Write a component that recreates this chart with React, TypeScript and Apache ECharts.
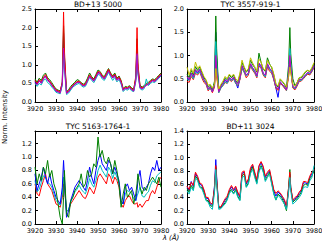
import React, { useEffect, useRef } from "react";
import * as echarts from "echarts";

const WAVELENGTHS = [
  3920, 3921, 3922, 3923, 3924, 3925, 3926, 3927, 3928, 3929,
  3930, 3931, 3932, 3933, 3933.6, 3934, 3935, 3936, 3937, 3938,
  3939, 3940, 3941, 3942, 3943, 3944, 3945, 3946, 3947, 3948,
  3949, 3950, 3951, 3952, 3953, 3954, 3955, 3956, 3957, 3958,
  3959, 3960, 3961, 3962, 3963, 3964, 3965, 3966, 3967, 3968,
  3968.6, 3969, 3970, 3971, 3972, 3973, 3974, 3975, 3976, 3977, 3978, 3979, 3980,
];

const TITLES = ["BD+13 5000", "TYC 3557-919-1", "TYC 5163-1764-1", "BD+11 3024"];
const Y_MAX = [2.5, 2.0, 1.39, 1.4];
const Y_STEP = [0.5, 0.5, 0.2, 0.2];

// Panel 1: BD+13 5000
const P1_BLUE = [
  0.55, 0.48, 0.58, 0.52, 0.64, 0.70, 0.60, 0.54, 0.46, 0.38,
  0.30, 0.28, 0.25, 0.50, 1.85, 1.15, 0.24, 0.28, 0.36, 0.43,
  0.48, 0.53, 0.54, 0.48, 0.44, 0.46, 0.58, 0.70, 0.62, 0.57,
  0.68, 0.80, 0.77, 0.68, 0.63, 0.73, 0.85, 0.73, 0.65, 0.72,
  0.60, 0.65, 0.53, 0.32, 0.38, 0.36, 0.40, 0.34, 0.30, 0.62,
  1.55, 0.85, 0.40, 0.36, 0.40, 0.46, 0.48, 0.54, 0.58, 0.56, 0.61, 0.67, 0.73,
];
const P1_GREEN = [
  0.62, 0.53, 0.64, 0.58, 0.72, 0.78, 0.65, 0.60, 0.52, 0.43,
  0.35, 0.32, 0.30, 0.52, 2.05, 1.25, 0.28, 0.33, 0.42, 0.48,
  0.53, 0.60, 0.58, 0.52, 0.48, 0.52, 0.64, 0.78, 0.68, 0.62,
  0.74, 0.86, 0.82, 0.72, 0.68, 0.80, 0.90, 0.78, 0.70, 0.78,
  0.64, 0.70, 0.58, 0.36, 0.42, 0.40, 0.44, 0.38, 0.34, 0.65,
  1.70, 0.95, 0.45, 0.40, 0.44, 0.50, 0.53, 0.58, 0.62, 0.60, 0.66, 0.72, 0.78,
];
const P1_RED = [
  0.58, 0.50, 0.60, 0.55, 0.66, 0.74, 0.62, 0.56, 0.48, 0.40,
  0.33, 0.30, 0.28, 0.55, 2.42, 1.40, 0.26, 0.30, 0.38, 0.45,
  0.50, 0.55, 0.56, 0.50, 0.46, 0.48, 0.60, 0.73, 0.65, 0.60,
  0.70, 0.82, 0.80, 0.70, 0.66, 0.76, 0.88, 0.76, 0.68, 0.75,
  0.62, 0.68, 0.56, 0.34, 0.40, 0.38, 0.42, 0.36, 0.32, 0.70,
  2.00, 1.05, 0.42, 0.38, 0.42, 0.48, 0.50, 0.56, 0.60, 0.58, 0.63, 0.70, 0.76,
];
const P1_CYAN = [
  0.50, 0.42, 0.50, 0.46, 0.58, 0.62, 0.52, 0.48, 0.40, 0.34,
  0.26, 0.24, 0.22, 0.45, 1.35, 0.90, 0.20, 0.24, 0.32, 0.40,
  0.44, 0.48, 0.50, 0.44, 0.40, 0.42, 0.54, 0.66, 0.58, 0.52,
  0.62, 0.74, 0.72, 0.62, 0.58, 0.68, 0.80, 0.68, 0.58, 0.66,
  0.54, 0.60, 0.48, 0.28, 0.34, 0.32, 0.36, 0.30, 0.28, 0.55,
  1.25, 0.75, 0.36, 0.32, 0.36, 0.62, 0.44, 0.50, 0.54, 0.52, 0.58, 0.64, 0.70,
];
const P1_MAGENTA = [
  0.52, 0.46, 0.56, 0.50, 0.62, 0.68, 0.58, 0.52, 0.44, 0.37,
  0.29, 0.27, 0.24, 0.48, 1.45, 0.95, 0.23, 0.27, 0.35, 0.42,
  0.47, 0.52, 0.53, 0.47, 0.43, 0.45, 0.57, 0.69, 0.61, 0.56,
  0.66, 0.78, 0.75, 0.66, 0.62, 0.72, 0.83, 0.72, 0.64, 0.70,
  0.58, 0.63, 0.52, 0.31, 0.37, 0.35, 0.39, 0.33, 0.29, 0.58,
  1.30, 0.80, 0.38, 0.35, 0.39, 0.45, 0.47, 0.53, 0.57, 0.55, 0.60, 0.66, 0.72,
];

// Panel 2: TYC 3557-919-1
const P2_BLUE = [
  0.52, 0.48, 0.62, 0.52, 0.68, 0.62, 0.70, 0.58, 0.48, 0.42,
  0.28, 0.32, 0.22, 0.40, 1.50, 0.95, 0.22, 0.32, 0.38, 0.48,
  0.42, 0.52, 0.48, 0.52, 0.42, 0.30, 0.50, 0.78, 0.66, 0.58,
  0.62, 0.82, 0.72, 0.66, 0.56, 0.82, 0.76, 0.62, 0.56, 0.82,
  0.72, 0.66, 0.50, 0.30, 0.10, 0.42, 0.38, 0.32, 0.26, 0.62,
  0.90, 0.75, 0.32, 0.28, 0.38, 0.48, 0.48, 0.52, 0.58, 0.62, 0.60, 0.68, 0.78,
];
const P2_GREEN = [
  0.60, 0.52, 0.68, 0.58, 0.76, 0.68, 0.75, 0.64, 0.52, 0.46,
  0.32, 0.36, 0.25, 0.45, 1.85, 1.15, 0.24, 0.36, 0.42, 0.52,
  0.48, 0.58, 0.52, 0.58, 0.46, 0.42, 0.58, 0.85, 0.74, 0.64,
  0.70, 0.90, 0.80, 0.74, 0.64, 1.05, 0.85, 0.70, 0.66, 0.95,
  0.82, 0.74, 0.58, 0.38, 0.32, 0.48, 0.44, 0.38, 0.30, 0.80,
  1.60, 1.05, 0.50, 0.35, 0.42, 0.52, 0.52, 0.58, 0.64, 0.68, 0.65, 0.72, 0.82,
];
const P2_RED = [
  0.45, 0.42, 0.55, 0.48, 0.62, 0.58, 0.65, 0.52, 0.42, 0.38,
  0.24, 0.30, 0.20, 0.32, 0.80, 0.55, 0.20, 0.30, 0.35, 0.42,
  0.40, 0.48, 0.44, 0.50, 0.40, 0.35, 0.48, 0.72, 0.64, 0.52,
  0.58, 0.78, 0.68, 0.62, 0.52, 0.78, 0.72, 0.58, 0.52, 0.76,
  0.66, 0.62, 0.48, 0.30, 0.25, 0.40, 0.36, 0.30, 0.24, 0.55,
  0.95, 0.70, 0.30, 0.26, 0.34, 0.44, 0.45, 0.50, 0.55, 0.60, 0.58, 0.65, 0.74,
];
const P2_CYAN = [
  0.50, 0.46, 0.60, 0.50, 0.66, 0.60, 0.66, 0.55, 0.46, 0.40,
  0.26, 0.30, 0.22, 0.36, 1.30, 0.85, 0.20, 0.30, 0.36, 0.44,
  0.40, 0.50, 0.46, 0.50, 0.40, 0.36, 0.50, 0.74, 0.64, 0.56,
  0.60, 0.80, 0.70, 0.64, 0.54, 0.80, 0.74, 0.60, 0.54, 0.80,
  0.70, 0.64, 0.50, 0.32, 0.28, 0.42, 0.38, 0.32, 0.25, 0.65,
  1.15, 0.85, 0.32, 0.28, 0.36, 0.46, 0.46, 0.52, 0.56, 0.62, 0.60, 0.66, 0.76,
];
const P2_MAGENTA = [
  0.55, 0.48, 0.62, 0.54, 0.70, 0.64, 0.70, 0.58, 0.48, 0.42,
  0.28, 0.32, 0.22, 0.38, 1.00, 0.70, 0.22, 0.34, 0.40, 0.48,
  0.44, 0.52, 0.48, 0.54, 0.44, 0.38, 0.52, 0.78, 0.68, 0.58,
  0.62, 0.82, 0.74, 0.68, 0.56, 0.84, 0.78, 0.62, 0.58, 0.82,
  0.72, 0.68, 0.52, 0.34, 0.28, 0.44, 0.38, 0.34, 0.26, 0.62,
  1.00, 0.75, 0.34, 0.30, 0.38, 0.48, 0.48, 0.54, 0.58, 0.64, 0.62, 0.68, 0.78,
];
const P2_YELLOW = [
  0.75, 0.58, 0.72, 0.62, 0.86, 0.72, 0.78, 0.66, 0.55, 0.48,
  0.36, 0.38, 0.30, 0.38, 0.72, 0.55, 0.28, 0.38, 0.45, 0.55,
  0.50, 0.60, 0.55, 0.60, 0.50, 0.45, 0.62, 0.90, 0.76, 0.66,
  0.72, 0.95, 0.84, 0.76, 0.66, 0.92, 0.86, 0.72, 0.68, 0.90,
  0.80, 0.76, 0.60, 0.40, 0.34, 0.50, 0.45, 0.40, 0.32, 0.55,
  0.75, 0.62, 0.38, 0.34, 0.42, 0.52, 0.54, 0.60, 0.66, 0.68, 0.66, 0.74, 0.85,
];

// Panel 3: TYC 5163-1764-1
const P3_RED = [
  0.60, 0.45, 0.42, 0.55, 0.65, 0.75, 0.60, 0.55, 0.50, 0.40,
  0.30, 0.28, 0.25, 0.40, 0.60, 0.55, 0.20, 0.20, 0.30, 0.35,
  0.40, 0.45, 0.50, 0.45, 0.40, 0.38, 0.45, 0.55, 0.50, 0.45,
  0.55, 0.70, 0.75, 0.70, 0.65, 0.60, 0.75, 0.70, 0.60, 0.70,
  0.65, 0.55, 0.30, 0.25, 0.35, 0.40, 0.42, 0.35, 0.30, 0.30,
  0.32, 0.25, 0.30, 0.25, 0.30, 0.35, 0.35, 0.45, 0.50, 0.45, 0.55, 0.65, 0.70,
];
const P3_CYAN = [
  0.65, 0.48, 0.52, 0.62, 0.72, 0.70, 0.62, 0.60, 0.55, 0.45,
  0.35, 0.32, 0.28, 0.45, 0.70, 0.60, 0.18, 0.22, 0.32, 0.40,
  0.48, 0.52, 0.58, 0.52, 0.48, 0.45, 0.55, 0.68, 0.60, 0.55,
  0.65, 0.80, 0.88, 0.80, 0.75, 0.70, 0.85, 0.80, 0.68, 0.78,
  0.70, 0.60, 0.32, 0.30, 0.45, 0.50, 0.48, 0.45, 0.38, 0.35,
  0.42, 0.45, 0.55, 0.42, 0.40, 0.45, 0.48, 0.58, 0.65, 0.62, 0.72, 0.75, 0.78,
];
const P3_BLUE = [
  0.75, 0.50, 0.60, 0.70, 0.85, 0.70, 0.60, 0.75, 0.60, 0.50,
  0.40, 0.35, 0.30, 0.55, 0.95, 0.70, 0.10, 0.20, 0.35, 0.45,
  0.55, 0.60, 0.65, 0.60, 0.55, 0.50, 0.65, 0.85, 0.70, 0.60,
  0.80, 0.95, 1.05, 0.90, 0.85, 0.80, 0.95, 0.90, 0.75, 0.85,
  0.75, 0.65, 0.35, 0.30, 0.55, 0.60, 0.50, 0.55, 0.45, 0.35,
  0.50, 0.65, 0.80, 0.55, 0.50, 0.55, 0.60, 0.75, 0.85, 0.80, 0.95, 0.80, 0.85,
];
const P3_GREEN = [
  0.85, 0.60, 0.75, 0.65, 0.85, 0.75, 0.95, 0.70, 0.80, 0.60,
  0.50, 0.30, 0.10, 0.00, 0.40, 0.80, 0.15, 0.10, 0.35, 0.40,
  0.50, 0.55, 0.60, 0.75, 0.55, 0.60, 0.80, 0.70, 0.75, 0.90,
  0.85, 1.30, 1.00, 1.10, 0.95, 0.90, 1.00, 0.90, 0.75, 0.95,
  0.80, 0.60, 0.25, 0.45, 0.60, 0.40, 0.45, 0.50, 0.30, 0.45,
  0.60, 0.75, 0.55, 0.45, 0.55, 0.50, 0.60, 0.65, 0.70, 0.65, 0.60, 0.70, 0.55,
];

// Panel 4: BD+11 3024
const P4_BLUE = [
  0.56, 0.50, 0.64, 0.56, 0.76, 0.70, 0.60, 0.58, 0.50, 0.39,
  0.38, 0.30, 0.28, 0.58, 0.97, 0.72, 0.25, 0.25, 0.30, 0.36,
  0.40, 0.50, 0.56, 0.50, 0.55, 0.46, 0.40, 0.76, 0.78, 0.60,
  0.66, 0.82, 0.88, 0.76, 0.65, 0.86, 0.92, 0.85, 0.70, 0.76,
  0.80, 0.65, 0.50, 0.42, 0.48, 0.45, 0.40, 0.35, 0.25, 0.52,
  0.75, 0.55, 0.35, 0.38, 0.40, 0.46, 0.50, 0.62, 0.62, 0.60, 0.70, 0.76, 0.80,
];
const P4_GREEN = [
  0.53, 0.48, 0.58, 0.52, 0.72, 0.68, 0.56, 0.55, 0.47, 0.36,
  0.35, 0.28, 0.26, 0.52, 0.85, 0.65, 0.24, 0.24, 0.28, 0.32,
  0.38, 0.48, 0.52, 0.46, 0.52, 0.42, 0.36, 0.72, 0.76, 0.56,
  0.62, 0.78, 0.86, 0.72, 0.62, 0.80, 0.88, 0.80, 0.66, 0.72,
  0.78, 0.62, 0.46, 0.36, 0.45, 0.42, 0.38, 0.30, 0.20, 0.55,
  0.82, 0.55, 0.33, 0.36, 0.38, 0.43, 0.48, 0.58, 0.60, 0.58, 0.68, 0.72, 0.80,
];
const P4_RED = [
  0.57, 0.52, 0.63, 0.58, 0.78, 0.72, 0.62, 0.60, 0.52, 0.40,
  0.40, 0.32, 0.30, 0.55, 0.88, 0.68, 0.26, 0.26, 0.32, 0.38,
  0.42, 0.52, 0.58, 0.52, 0.57, 0.48, 0.42, 0.78, 0.80, 0.62,
  0.68, 0.85, 0.90, 0.78, 0.67, 0.88, 0.94, 0.87, 0.72, 0.78,
  0.82, 0.67, 0.52, 0.46, 0.50, 0.47, 0.42, 0.37, 0.27, 0.55,
  0.78, 0.56, 0.36, 0.40, 0.42, 0.48, 0.52, 0.64, 0.64, 0.62, 0.72, 0.78, 0.82,
];
const P4_CYAN = [
  0.50, 0.45, 0.55, 0.50, 0.70, 0.65, 0.55, 0.53, 0.45, 0.35,
  0.33, 0.25, 0.22, 0.48, 0.82, 0.60, 0.22, 0.23, 0.27, 0.30,
  0.36, 0.46, 0.50, 0.45, 0.50, 0.40, 0.35, 0.70, 0.72, 0.55,
  0.60, 0.76, 0.82, 0.70, 0.60, 0.78, 0.86, 0.78, 0.64, 0.70,
  0.75, 0.60, 0.45, 0.36, 0.43, 0.40, 0.35, 0.30, 0.22, 0.48,
  0.70, 0.50, 0.30, 0.33, 0.36, 0.40, 0.45, 0.55, 0.56, 0.55, 0.65, 0.70, 0.88,
];

const COL = {
  b: "#0000ff",
  g: "#008000",
  r: "#ff0000",
  c: "#00bfbf",
  m: "#bf00bf",
  y: "#bfbf00",
};

const PANEL_SERIES: [string, number[]][][] = [
  [[COL.b, P1_BLUE], [COL.g, P1_GREEN], [COL.r, P1_RED], [COL.c, P1_CYAN], [COL.m, P1_MAGENTA]],
  [[COL.b, P2_BLUE], [COL.g, P2_GREEN], [COL.r, P2_RED], [COL.c, P2_CYAN], [COL.m, P2_MAGENTA], [COL.y, P2_YELLOW]],
  [[COL.r, P3_RED], [COL.c, P3_CYAN], [COL.b, P3_BLUE], [COL.g, P3_GREEN]],
  [[COL.b, P4_BLUE], [COL.g, P4_GREEN], [COL.r, P4_RED], [COL.c, P4_CYAN]],
];

const GRIDS = [
  { left: 35, top: 9, width: 126, height: 93 },
  { left: 187, top: 9, width: 127, height: 93 },
  { left: 35, top: 131, width: 126, height: 93 },
  { left: 187, top: 131, width: 127, height: 93 },
];

const FONT = "DejaVu Sans";

export default function App() {
  const ref = useRef<HTMLDivElement>(null);
  useEffect(() => {
    if (!ref.current) return;
    const chart = echarts.init(ref.current, null, { renderer: "svg" });
    const lineCol = "#000";
    const xAxes: any[] = [];
    const yAxes: any[] = [];
    const series: any[] = [];
    GRIDS.forEach((_, i) => {
      const baseX = {
        type: "value",
        gridIndex: i,
        min: 3920,
        max: 3980,
        interval: 10,
        axisLine: { show: true, onZero: false, lineStyle: { color: lineCol, width: 1 } },
        axisTick: { show: true, inside: true, length: 3, lineStyle: { color: lineCol, width: 1 } },
        splitLine: { show: false },
      };
      xAxes.push({
        ...baseX,
        position: "bottom",
        axisLabel: {
          show: true,
          fontSize: 6.5,
          color: "#000",
          margin: 3,
          fontFamily: FONT,
          formatter: (v: number) => String(Math.round(v)),
        },
      });
      xAxes.push({ ...baseX, position: "top", axisLabel: { show: false } });
      const baseY = {
        type: "value",
        gridIndex: i,
        min: 0,
        max: Y_MAX[i],
        interval: Y_STEP[i],
        axisLine: { show: true, onZero: false, lineStyle: { color: lineCol, width: 1 } },
        axisTick: { show: true, inside: true, length: 3, lineStyle: { color: lineCol, width: 1 } },
        splitLine: { show: false },
      };
      yAxes.push({
        ...baseY,
        position: "left",
        axisLabel: {
          show: true,
          fontSize: 6.5,
          color: "#000",
          margin: 3,
          fontFamily: FONT,
          showMaxLabel: i === 2 ? false : true,
          formatter: (v: number) => v.toFixed(1),
        },
      });
      yAxes.push({ ...baseY, position: "right", axisLabel: { show: false } });
      PANEL_SERIES[i].forEach(([color, vals]) => {
        series.push({
          type: "line",
          xAxisIndex: i * 2,
          yAxisIndex: i * 2,
          data: WAVELENGTHS.map((w, k) => [w, vals[k]]),
          showSymbol: false,
          symbol: "none",
          lineStyle: { color, width: 1 },
          itemStyle: { color },
          clip: true,
        });
      });
    });
    const graphics: any[] = GRIDS.map((g, i) => ({
      type: "text",
      x: g.left + g.width / 2,
      y: g.top - 1,
      style: {
        text: TITLES[i],
        fontSize: 7.5,
        fontFamily: FONT,
        fill: "#000",
        textAlign: "center",
        textVerticalAlign: "bottom",
      },
    }));
    graphics.push({
      type: "text",
      x: 5,
      y: 117,
      rotation: Math.PI / 2,
      style: {
        text: "Norm. Intensity",
        fontSize: 7,
        fontFamily: FONT,
        fill: "#000",
        textAlign: "center",
        textVerticalAlign: "middle",
      },
    });
    graphics.push({
      type: "text",
      x: 171,
      y: 238,
      style: {
        text: "λ (Å)",
        fontSize: 7,
        fontFamily: FONT,
        fontStyle: "italic",
        fill: "#000",
        textAlign: "center",
        textVerticalAlign: "middle",
      },
    });
    chart.setOption({
      animation: false,
      backgroundColor: "#fff",
      grid: GRIDS.map((g) => ({ ...g, containLabel: false, outerBoundsMode: "none" })),
      xAxis: xAxes,
      yAxis: yAxes,
      series,
      graphic: graphics,
    });
    return () => chart.dispose();
  }, []);
  return (
    <div
      ref={ref}
      style={{ position: "fixed", left: 0, top: 0, width: 322, height: 245, background: "#fff" }}
    />
  );
}
